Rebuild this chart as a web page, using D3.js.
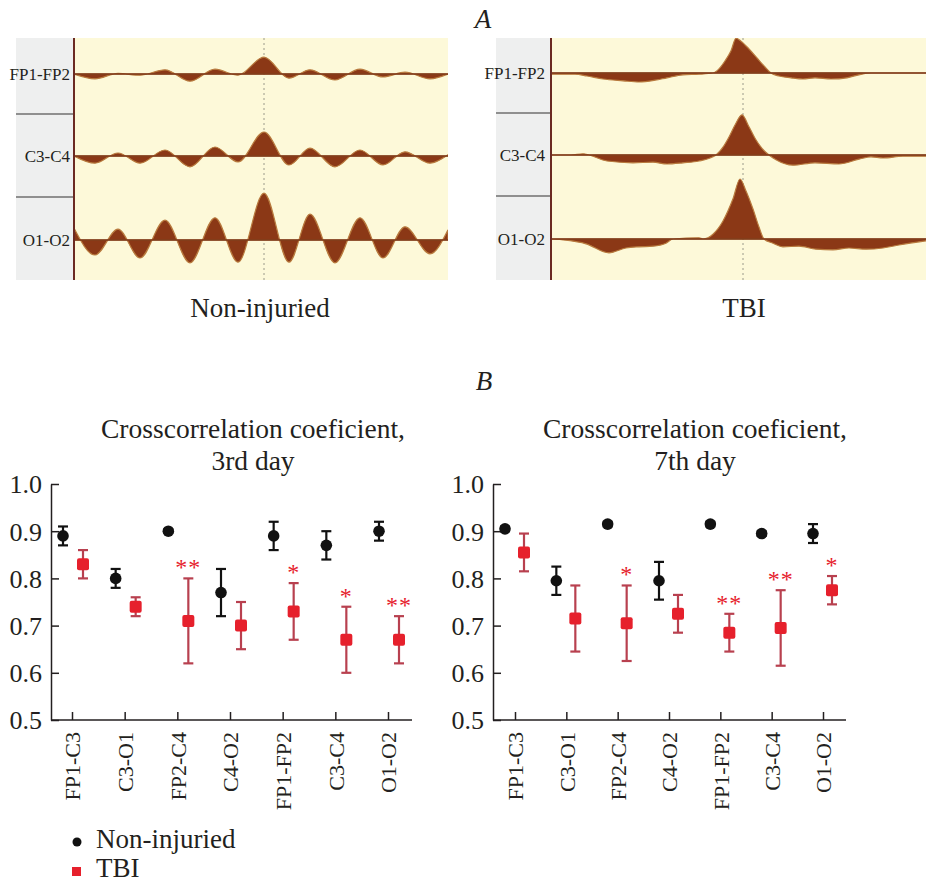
<!DOCTYPE html>
<html><head><meta charset="utf-8">
<script src="https://cdn.jsdelivr.net/npm/d3@7"></script>
<style>
body{margin:0;background:#fff}
svg{display:block}
text{font-family:"Liberation Serif","Times New Roman",serif;fill:#231f20}
</style>
</head><body>
<svg id="c" width="926" height="882"></svg>
<script>
// ---------- Panel A data (cross-correlograms: lag, amplitude) ----------
const traceNames = ["FP1-FP2", "C3-C4", "O1-O2"];
const ctrlLags = [-95,-84.5,-73,-62,-49.5,-37,-24.5,-13,0,12.5,23,35.5,48,59.5,70.5,83,92];
const ctrlFP1FP2 = [0,-0.08,0.01,-0.02,0.07,-0.12,0.08,-0.02,0.28,-0.07,0.07,-0.10,0.08,-0.05,0.03,-0.08,0];
const ctrlC3C4   = [0,-0.12,0.05,-0.12,0.10,-0.18,0.15,-0.10,0.40,-0.15,0.13,-0.18,0.10,-0.15,0.07,-0.12,0.02];
const ctrlO1O2   = [0.20,-0.25,0.18,-0.30,0.33,-0.38,0.37,-0.37,0.78,-0.37,0.43,-0.38,0.37,-0.30,0.22,-0.23,0.17];

const tbiLagsFP1FP2 = [-96,-84,-78,-70,-60,-52,-44,-38,-30,-22,-15,-12,-9,-6,-3.5,-1,3,7,11,14,18,24,30,36,44,52,58,64,80,91.5];
const tbiFP1FP2     = [-0.02,-0.02,-0.05,-0.10,-0.13,-0.15,-0.12,-0.08,-0.03,-0.02,0,0.07,0.20,0.37,0.58,0.53,0.40,0.25,0.10,0,-0.05,-0.08,-0.10,-0.08,-0.10,-0.08,-0.03,0,0,0];
const tbiLagsC3C4 = [-96,-86,-80,-77,-68,-55,-45,-38,-30,-22,-15,-13.5,-10,-7,-4,-0.5,3,6,9,13,16.5,25,36,48,58,64,70,80,91.5];
const tbiC3C4     = [0,0,0.02,0,-0.10,-0.13,-0.12,-0.15,-0.13,-0.10,-0.03,0,0.13,0.30,0.50,0.67,0.47,0.28,0.13,0,-0.08,-0.17,-0.13,-0.15,-0.07,-0.03,-0.05,-0.02,-0.02];
const tbiLagsO1O2 = [-96,-88.5,-78.5,-67,-58.5,-52,-45,-38.5,-35,-22,-20,-15,-10,-5,-1.5,1.5,5,8,10.5,15,20,28,36.5,45,53,61.5,70,78,91.5];
const tbiO1O2     = [0,-0.02,-0.08,-0.23,-0.15,-0.13,-0.12,-0.07,0,0.02,0,0.08,0.30,0.67,1.0,0.80,0.50,0.20,0,-0.07,-0.13,-0.12,-0.17,-0.18,-0.15,-0.17,-0.15,-0.10,-0.03];

// ---------- Panel B data ----------
const categories = ["FP1-C3","C3-O1","FP2-C4","C4-O2","FP1-FP2","C3-C4","O1-O2"];
const yTicks = [0.5,0.6,0.7,0.8,0.9,1.0];
const day3Control    = [0.89,0.80,0.90,0.77,0.89,0.87,0.90];
const day3ControlErr = [0.02,0.02,0.004,0.05,0.03,0.03,0.02];
const day3TBI        = [0.83,0.74,0.71,0.70,0.73,0.67,0.67];
const day3TBIErr     = [0.03,0.02,0.09,0.05,0.06,0.07,0.05];
const day3Stars      = ["","","**","","*","*","**"];
const day7Control    = [0.905,0.795,0.915,0.795,0.915,0.895,0.895];
const day7ControlErr = [0.005,0.03,0.005,0.04,0.005,0.005,0.02];
const day7TBI        = [0.855,0.715,0.705,0.725,0.685,0.695,0.775];
const day7TBIErr     = [0.04,0.07,0.08,0.04,0.04,0.08,0.03];
const day7Stars      = ["","","*","","**","**","*"];

const svg = d3.select("#c");
const RED = "#e6202c", RED_ERR = "#b8404f", BLACK = "#111";

// ================= PANEL A =================
svg.append("text").attr("x",483).attr("y",28).attr("text-anchor","middle")
  .style("font-size","27px").style("font-style","italic").text("A");

function drawCorrelogram(cfg){
  const g = svg.append("g");
  const id = "clip" + cfg.id;
  svg.append("defs").append("clipPath").attr("id",id).append("rect")
    .attr("x",cfg.x0).attr("y",38).attr("width",cfg.x1-cfg.x0).attr("height",242);
  g.append("rect").attr("x",cfg.gx).attr("y",38).attr("width",cfg.x0-cfg.gx).attr("height",242).attr("fill","#eeefef");
  g.append("rect").attr("x",cfg.x0).attr("y",38).attr("width",cfg.x1-cfg.x0).attr("height",242).attr("fill","#fdf9d9");
  cfg.dividers.forEach(d=>g.append("line").attr("x1",cfg.gx).attr("x2",cfg.x0).attr("y1",d).attr("y2",d)
    .attr("stroke","#6f6f6f").attr("stroke-width",1.5));
  const x = d3.scaleLinear().domain(cfg.domain).range([cfg.x0, cfg.x1]);
  g.append("line").attr("x1",x(0)).attr("x2",x(0)).attr("y1",38).attr("y2",280)
    .attr("stroke","#9a9a8a").attr("stroke-width",1).attr("stroke-dasharray","2,3");
  const pg = g.append("g").attr("clip-path",`url(#${id})`);
  cfg.traces.forEach((t,i)=>{
    const base = cfg.baselines[i];
    const y = d3.scaleLinear().domain([-1,1]).range([base+60, base-60]);
    const pts = t.lags.map((l,j)=>[l, t.vals[j]]);
    const area = d3.area().x(d=>x(d[0])).y0(y(0)).y1(d=>y(d[1])).curve(d3.curveMonotoneX);
    pg.append("path").attr("d",area(pts)).attr("fill","#8b3816")
      .attr("stroke","#b87a3e").attr("stroke-width",1.2);
    pg.append("line").attr("x1",cfg.x0).attr("x2",cfg.x1).attr("y1",y(0)).attr("y2",y(0))
      .attr("stroke","#7a3416").attr("stroke-width",1.6);
    g.append("text").attr("x",cfg.labelX).attr("y",base+6).attr("text-anchor","end")
      .style("font-size","17px").text(traceNames[i]);
  });
  g.append("line").attr("x1",cfg.x0).attr("x2",cfg.x0).attr("y1",38).attr("y2",280)
    .attr("stroke","#6b2a22").attr("stroke-width",2);
  svg.append("text").attr("x",cfg.captionX).attr("y",317).attr("text-anchor","middle")
    .style("font-size","27px").text(cfg.caption);
}

drawCorrelogram({id:"L", gx:16, x0:74, x1:448, domain:[-95,92], dividers:[114,197],
  baselines:[74,156,240], labelX:70, captionX:260, caption:"Non-injuried",
  traces:[{lags:ctrlLags, vals:ctrlFP1FP2},{lags:ctrlLags, vals:ctrlC3C4},{lags:ctrlLags, vals:ctrlO1O2}]});
drawCorrelogram({id:"R", gx:496, x0:551, x1:926, domain:[-96,91.5], dividers:[113,196],
  baselines:[73,155,239], labelX:545, captionX:744, caption:"TBI",
  traces:[{lags:tbiLagsFP1FP2, vals:tbiFP1FP2},{lags:tbiLagsC3C4, vals:tbiC3C4},{lags:tbiLagsO1O2, vals:tbiO1O2}]});

// ================= PANEL B =================
svg.append("text").attr("x",484).attr("y",390).attr("text-anchor","middle")
  .style("font-size","27px").style("font-style","italic").text("B");

const y = d3.scaleLinear().domain([0.5,1.0]).range([720,484]);

function drawPanel(cfg){
  const g = svg.append("g");
  g.append("text").attr("x",cfg.titleX).attr("y",438).attr("text-anchor","middle")
    .style("font-size","27.5px").text("Crosscorrelation coeficient,");
  g.append("text").attr("x",cfg.titleX).attr("y",470).attr("text-anchor","middle")
    .style("font-size","27.5px").text(cfg.title2);

  const x = d3.scalePoint().domain(categories).range([cfg.ax0+cfg.first, cfg.ax0+cfg.last]);

  const ya = g.append("g").attr("transform",`translate(${cfg.ax0},0)`)
    .call(d3.axisLeft(y).tickValues(yTicks).tickFormat(d3.format(".1f")).tickSize(-8).tickSizeOuter(0).tickPadding(9));
  ya.attr("font-family",null).attr("font-size",null);
  ya.selectAll("text").style("font-size","26px").attr("fill","#231f20").attr("dy","0.34em");
  ya.selectAll("line,path").attr("stroke","#231f20").attr("stroke-width",1.5);

  const xa = g.append("g").attr("transform","translate(0,720)")
    .call(d3.axisBottom(x).tickSize(-8).tickSizeOuter(0));
  xa.select(".domain").remove();
  xa.attr("font-family",null).attr("font-size",null);
  xa.selectAll("line").attr("stroke","#231f20").attr("stroke-width",1.5);
  xa.selectAll("text").attr("transform","rotate(-90)").attr("x",-12).attr("y",0)
    .attr("dy","0.35em").style("text-anchor","end").style("font-size","22px").attr("fill","#231f20");
  g.append("line").attr("x1",cfg.ax0).attr("x2",cfg.ax1).attr("y1",720).attr("y2",720)
    .attr("stroke","#231f20").attr("stroke-width",1.5);

  function errs(vals, errsArr, off, color){
    categories.forEach((c,i)=>{
      const cx = x(c)+off, top = y(vals[i]+errsArr[i]), bot = y(vals[i]-errsArr[i]);
      g.append("line").attr("x1",cx).attr("x2",cx).attr("y1",top).attr("y2",bot).attr("stroke",color).attr("stroke-width",2.2);
      [top,bot].forEach(v=>g.append("line").attr("x1",cx-5).attr("x2",cx+5).attr("y1",v).attr("y2",v)
        .attr("stroke",color).attr("stroke-width",2.2));
    });
  }
  errs(cfg.ctrl, cfg.ctrlErr, cfg.offC, BLACK);
  errs(cfg.tbi, cfg.tbiErr, cfg.offT, RED_ERR);
  categories.forEach((c,i)=>{
    g.append("circle").attr("cx",x(c)+cfg.offC).attr("cy",y(cfg.ctrl[i])).attr("r",5.8).attr("fill",BLACK);
    g.append("rect").attr("x",x(c)+cfg.offT-6).attr("y",y(cfg.tbi[i])-6).attr("width",12).attr("height",12)
      .attr("rx",2).attr("fill",RED);
    if(cfg.stars[i]){
      g.append("text").attr("x",x(c)+cfg.offT).attr("y",y(cfg.tbi[i]+cfg.tbiErr[i])-3)
        .attr("text-anchor","middle").style("font-size","24px").style("fill",RED)
        .style("letter-spacing","1px").text(cfg.stars[i]);
    }
  });
}

drawPanel({ax0:51, ax1:412, first:21, last:337, titleX:253, title2:"3rd day", offC:-9, offT:11,
  ctrl:day3Control, ctrlErr:day3ControlErr, tbi:day3TBI, tbiErr:day3TBIErr, stars:day3Stars});
drawPanel({ax0:493, ax1:846, first:22, last:330, titleX:695, title2:"7th day", offC:-10, offT:9,
  ctrl:day7Control, ctrlErr:day7ControlErr, tbi:day7TBI, tbiErr:day7TBIErr, stars:day7Stars});

// ---------- legend ----------
const legendItems = ["Non-injuried","TBI"];
const lg = svg.append("g");
lg.append("circle").attr("cx",77).attr("cy",842).attr("r",4.5).attr("fill",BLACK);
lg.append("rect").attr("x",72).attr("y",867).attr("width",9).attr("height",9).attr("fill",RED);
lg.append("text").attr("x",96).attr("y",848).style("font-size","27px").text(legendItems[0]);
lg.append("text").attr("x",96).attr("y",877).style("font-size","27px").text(legendItems[1]);
</script>
</body></html>
